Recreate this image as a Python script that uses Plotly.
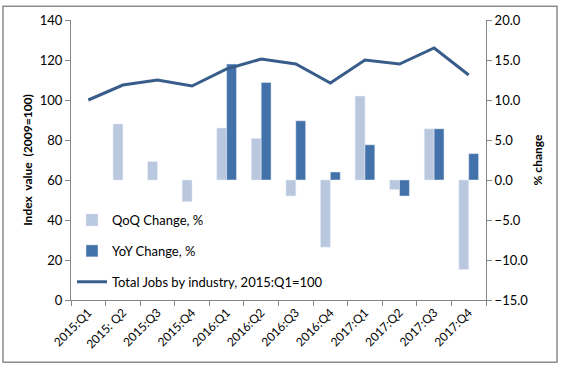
import plotly.graph_objects as go

quarters = ["2015:Q1", "2015: Q2", "2015:Q3", "2015:Q4", "2016:Q1", "2016:Q2",
            "2016:Q3", "2016:Q4", "2017:Q1", "2017:Q2", "2017:Q3", "2017:Q4"]
qoq = [None, 7.0, 2.3, -2.7, 6.5, 5.2, -2.0, -8.4, 10.5, -1.2, 6.4, -11.2]
yoy = [None, None, None, None, 14.5, 12.2, 7.4, 1.0, 4.4, -2.0, 6.4, 3.3]
total_jobs = [100, 107.5, 110, 107, 115.5, 120.5, 118, 108.5, 120, 118, 126, 112.5]

W, H = 567, 368
ml, mr, mt, mb = 71, 81, 17, 68
pw, ph = W - ml - mr, H - mt - mb

font = "Lato, 'Open Sans', sans-serif"
axis_col = "#868686"

fig = go.Figure()
fig.add_trace(go.Bar(x=quarters, y=qoq, name="QoQ Change, %", marker_color="#B9C7DF",
                     yaxis="y", legendgroup="a"))
fig.add_trace(go.Bar(x=quarters, y=yoy, name="YoY Change, %", marker_color="#4371A9",
                     yaxis="y", legendgroup="b"))
fig.add_trace(go.Scatter(x=quarters, y=total_jobs, name="Total Jobs by industry, 2015:Q1=100",
                         mode="lines", line=dict(color="#385D8A", width=3),
                         yaxis="y2", legendgroup="c"))

def px_x(p):
    return (p - ml) / pw

def px_y(p):
    return (H - mb - p) / ph

fig.update_layout(
    width=W, height=H,
    margin=dict(l=ml, r=mr, t=mt, b=mb),
    paper_bgcolor="white", plot_bgcolor="white",
    font=dict(family=font, size=13, color="#000000"),
    barmode="group", bargap=0.43, bargroupgap=0,
    showlegend=True,
    legend=dict(x=px_x(72), y=px_y(204), xanchor="left", yanchor="top", bgcolor="rgba(0,0,0,0)",
                font=dict(size=13, family=font), tracegroupgap=11, traceorder="grouped",
                itemwidth=30),
    xaxis=dict(type="category", tickangle=-45, tickson="boundaries", ticks="outside",
               ticklen=5, tickcolor=axis_col, showline=True, linecolor=axis_col,
               showgrid=False, tickfont=dict(size=12), zeroline=False),
    yaxis=dict(side="right", range=[-15, 20], tickvals=[-15, -10, -5, 0, 5, 10, 15, 20],
               tickformat=".1f", ticks="outside", ticklen=5, tickcolor=axis_col,
               showline=True, linecolor=axis_col, showgrid=False, zeroline=False,
               tickfont=dict(size=13),
               title=dict(text="<b>% change</b>", font=dict(size=12), standoff=6)),
    yaxis2=dict(side="left", overlaying="y", range=[0, 140], dtick=20, ticks="outside",
                ticklen=5, tickcolor=axis_col, showline=True, linecolor=axis_col,
                showgrid=False, zeroline=False, tickfont=dict(size=13),
                title=dict(text="<b>Index  value  (2009=100)</b>", font=dict(size=12), standoff=4)),
    shapes=[dict(type="rect", xref="paper", yref="paper",
                 x0=px_x(3), x1=px_x(557), y0=px_y(363), y1=px_y(3),
                 line=dict(color="#8C8C8C", width=1.5), fillcolor="rgba(0,0,0,0)", layer="above")],
)

fig.write_html("out.html", config={"displayModeBar": False},
               post_script="document.body.style.margin='0';document.body.style.padding='0';")
